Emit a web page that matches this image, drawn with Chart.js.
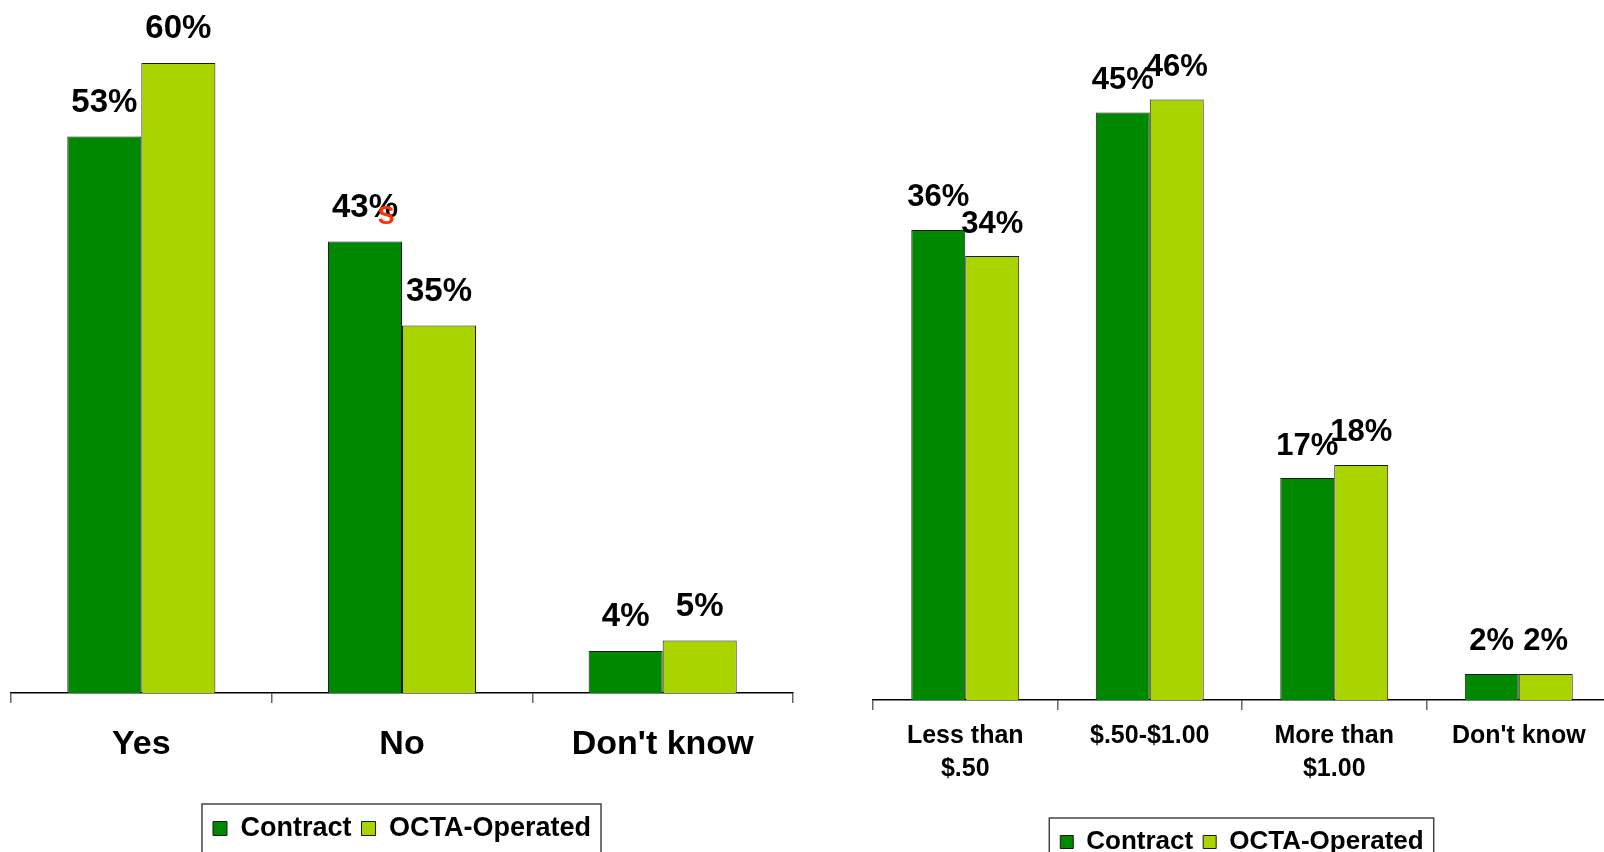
<!DOCTYPE html>
<html>
<head>
<meta charset="utf-8">
<script src="https://cdn.jsdelivr.net/npm/chart.js@4"></script>
<style>
  html, body { margin: 0; padding: 0; background: #fff; overflow: hidden; width: 1604px; height: 852px; }
  #leftChart { position: absolute; left: 0; top: 0; }
  #rightChart { position: absolute; left: 833px; top: 0; }
</style>
</head>
<body>
<canvas id="leftChart" width="800" height="852"></canvas>
<canvas id="rightChart" width="785" height="865"></canvas>
<script>
// values
const seriesNames = ['Contract', 'OCTA-Operated'];
const leftCategories = ['Yes', 'No', "Don't know"];
const leftContract = [53, 43, 4];
const leftOcta = [60, 35, 5];
const rightCategories = [['Less than', '$.50'], '$.50-$1.00', ['More than', '$1.00'], "Don't know"];
const rightContract = [36, 45, 17, 2];
const rightOcta = [34, 46, 18, 2];

const FONT = '"Liberation Sans", Arial, sans-serif';
const darkGreen = '#008800';
const lightGreen = '#aad400';

// value labels above each bar
const barLabels = {
  id: 'barLabels',
  afterDatasetsDraw(chart, args, opts) {
    const ctx = chart.ctx;
    ctx.save();
    ctx.font = 'bold ' + opts.size + 'px ' + FONT;
    ctx.fillStyle = '#000';
    ctx.textAlign = 'center';
    ctx.textBaseline = 'alphabetic';
    chart.data.datasets.forEach((ds, i) => {
      chart.getDatasetMeta(i).data.forEach((bar, j) => {
        ctx.fillText(ds.data[j] + '%', bar.x, bar.y - opts.offset);
      });
    });
    // stray red mark next to one label
    if (opts.stray) {
      const bar = chart.getDatasetMeta(0).data[1];
      ctx.font = 'bold 25px ' + FONT;
      ctx.fillStyle = '#ff3300';
      ctx.fillText('S', bar.x + 21, bar.y - 18);
    }
    ctx.restore();
  }
};

// frame around the legend
const legendFrame = {
  id: 'legendFrame',
  afterDraw(chart) {
    const lg = chart.legend;
    const boxes = lg.legendHitBoxes;
    if (!boxes || !boxes.length) return;
    const last = boxes[boxes.length - 1];
    const x0 = boxes[0].left - 11;
    const x1 = last.left + last.width + 10;
    const y0 = lg.top - 1;
    const ctx = chart.ctx;
    ctx.save();
    ctx.strokeStyle = '#444';
    ctx.lineWidth = 1.5;
    ctx.strokeRect(x0, y0, x1 - x0, chart.height + 10 - y0);
    ctx.restore();
  }
};

function makeChart(id, cats, a, b, cfg) {
  return new Chart(document.getElementById(id).getContext('2d'), {
    type: 'bar',
    data: {
      labels: cats,
      datasets: [
        { label: seriesNames[0], data: a, backgroundColor: darkGreen, borderColor: '#1a1a1a', borderWidth: 1 },
        { label: seriesNames[1], data: b, backgroundColor: lightGreen, borderColor: '#1a1a1a', borderWidth: 1 }
      ]
    },
    options: {
      responsive: false,
      animation: false,
      categoryPercentage: cfg.catPct,
      barPercentage: 1,
      layout: { padding: { left: cfg.padLeft, right: 7, top: cfg.padTop, bottom: 0 } },
      plugins: {
        tooltip: { enabled: false },
        legend: {
          position: 'bottom',
          labels: {
            boxWidth: cfg.box, boxHeight: cfg.box, padding: 10, color: '#000',
            font: { family: FONT, size: cfg.legendSize, weight: 'bold' }
          }
        },
        barLabels: { size: cfg.labelSize, offset: cfg.labelOffset, stray: cfg.stray }
      },
      scales: {
        x: {
          afterFit(scale) { scale.height = cfg.axisHeight; },
          border: { display: true, color: '#000', width: 1.5 },
          grid: { display: true, drawOnChartArea: false, drawTicks: true, tickLength: 10, color: '#666', lineWidth: 1.5 },
          ticks: {
            color: '#000', padding: cfg.tickPad, maxRotation: 0, autoSkip: false,
            font: { family: FONT, size: cfg.tickSize, weight: 'bold', lineHeight: cfg.tickLine }
          }
        },
        y: { display: false, min: 0, max: cfg.max }
      }
    },
    plugins: [barLabels, legendFrame]
  });
}

makeChart('leftChart', leftCategories, leftContract, leftOcta, {
  catPct: 0.568, padLeft: 11, padTop: 0, max: 66, axisHeight: 112,
  box: 14, legendSize: 27, labelSize: 33, labelOffset: 25, stray: true,
  tickPad: 21, tickSize: 34, tickLine: 1.2
});

makeChart('rightChart', rightCategories, rightContract, rightOcta, {
  catPct: 0.585, padLeft: 40, padTop: 8, max: 53, axisHeight: 119,
  box: 13, legendSize: 26, labelSize: 31, labelOffset: 23.5, stray: false,
  tickPad: 9.5, tickSize: 25, tickLine: 1.32
});
</script>
</body>
</html>
